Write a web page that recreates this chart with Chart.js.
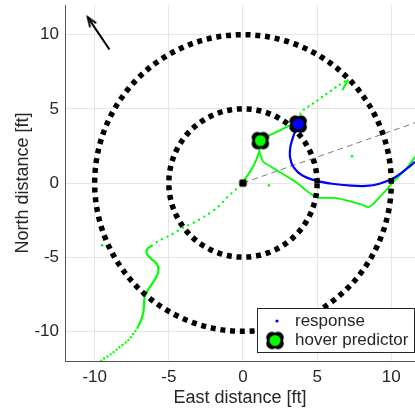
<!DOCTYPE html>
<html>
<head>
<meta charset="utf-8">
<script src="https://cdn.jsdelivr.net/npm/chart.js@4.4.1/dist/chart.umd.min.js"></script>
<style>
  html, body { margin: 0; padding: 0; background: #fff; }
  #wrap { width: 415px; height: 412px; }
</style>
</head>
<body>
<div id="wrap"><canvas id="hover_chart" width="415" height="412"></canvas></div>
<script>
// axis ticks
const xTicks = [-10, -5, 0, 5, 10];
const yTicks = [-10, -5, 0, 5, 10];

// range rings [ft]
const ringRadii = [5, 10];

// blue response trace
const responseX = [3.72, 3.45, 3.2, 3.18, 3.42, 3.98, 4.85, 6.0, 7.3, 8.3, 9.2, 10.1, 10.9, 11.6];
const responseY = [3.97, 3.3, 2.45, 1.7, 1.05, 0.52, 0.18, -0.05, -0.18, -0.2, -0.05, 0.3, 0.85, 1.42];

// green track, split by how dense the samples are
const trackStartX = [-9.7, -9.5, -8.89, -8.33, -7.77, -7.32, -7.09];
const trackStartY = [-12.2, -11.93, -11.53, -11.08, -10.63, -10.07, -9.73];
const wiggleX = [-7.09, -6.85, -6.7, -6.66, -6.55, -6.2, -5.85, -5.7, -5.8, -6.2, -6.5, -6.45, -6.15];
const wiggleY = [-9.73, -9.2, -8.6, -7.9, -7.45, -6.9, -6.35, -5.9, -5.45, -5.1, -4.75, -4.45, -4.22];
const approachX = [-6.15, -5.63, -4.84, -4.05, -3.26, -2.47, -1.69, -1.05, -0.5, -0.2];
const approachY = [-4.22, -3.87, -3.49, -3.01, -2.64, -2.18, -1.62, -0.95, -0.45, -0.2];
const climbX = [-0.2, 0.2, 0.54, 0.88, 1.1, 1.12];
const climbY = [-0.2, 0.35, 0.86, 1.53, 2.15, 2.5];
const bridgeX = [1.17, 1.8, 2.6, 3.24, 3.72];
const bridgeY = [2.86, 3.22, 3.6, 3.9, 3.97];
const exitX = [3.8, 3.94, 4.73, 5.52, 6.31, 7.09];
const exitY = [4.3, 4.8, 5.36, 5.93, 6.49, 6.98];
const tailX = [7.09, 6.71];
const tailY = [6.98, 6.26];
const sweepX = [1.1, 1.35, 1.9, 2.5, 3.1, 3.65, 4.2, 4.75, 5.2, 5.9, 6.5, 7.4, 8.0, 8.45, 8.8, 9.12, 9.6, 10.03, 10.5, 10.93, 11.6];
const sweepY = [2.15, 1.45, 1.1, 0.72, 0.35, 0.0, -0.45, -0.85, -1.0, -1.0, -1.05, -1.28, -1.45, -1.62, -1.4, -1.05, -0.55, -0.04, 0.45, 0.86, 1.76];
const strayX = [7.35, 1.75, -9.5];
const strayY = [1.8, -0.16, -4.2];

// markers
const predictorX = [1.17];
const predictorY = [2.86];
const currentX = [3.72];
const currentY = [3.97];
const originX = [0];
const originY = [0];

// heading arrow (tail, tip) and bearing line
const headingX = [-9.0, -10.47];
const headingY = [9.0, 11.18];
const bearingX = [0, 12];
const bearingY = [0, 4.2];

const labels = ['response', 'hover predictor'];

const TXT = '#262626';
const GREEN = '#00ff00';
const BLUE = '#0000ff';
const FONT = '"Liberation Sans", Arial, sans-serif';

const zip = (xs, ys) => xs.map((x, i) => ({x: x, y: ys[i]}));

function ring(r) {
  var pts = [];
  for (var i = 0; i <= 180; i++) {
    var a = i * Math.PI / 90;
    pts.push({x: r * Math.cos(a), y: r * Math.sin(a)});
  }
  return pts;
}

// black "flower" outline with a coloured centre
function flower(r, fill) {
  var size = Math.ceil(r * 2 + 2);
  var c = document.createElement('canvas');
  c.width = c.height = size;
  var g = c.getContext('2d');
  var m = size / 2;
  g.fillStyle = '#000';
  g.beginPath(); g.arc(m, m, r * 0.8, 0, Math.PI * 2); g.fill();
  for (var k = 0; k < 4; k++) {
    var a = Math.PI / 4 + k * Math.PI / 2;
    g.beginPath();
    g.arc(m + Math.cos(a) * r * 0.42, m + Math.sin(a) * r * 0.42, r * 0.58, 0, Math.PI * 2);
    g.fill();
  }
  if (fill) {
    g.fillStyle = fill;
    g.beginPath(); g.arc(m, m, r * 0.55, 0, Math.PI * 2); g.fill();
  }
  return c;
}

function arrowHead() {
  var c = document.createElement('canvas');
  c.width = 12; c.height = 26;
  var g = c.getContext('2d');
  g.strokeStyle = '#000';
  g.lineWidth = 2;
  g.lineCap = 'round';
  g.beginPath();
  g.moveTo(2.6, 22); g.lineTo(6, 13); g.lineTo(9.4, 22);
  g.stroke();
  return c;
}

const predictorIcon = flower(10, GREEN);
const currentIcon = flower(10, BLUE);
const originIcon = flower(4.4, null);

const headingRotation = Math.atan2(headingX[1] - headingX[0], headingY[1] - headingY[0]) * 180 / Math.PI;

function lineSet(data, color, width, dash, order, cap) {
  return {
    data: data, showLine: true, pointRadius: 0, pointHoverRadius: 0, borderColor: color,
    borderWidth: width, borderDash: dash || [], borderCapStyle: cap || 'butt',
    tension: 0.3, order: order, fill: false
  };
}

const legendBox = {
  id: 'legendBox',
  afterDatasetsDraw(chart) {
    const ctx = chart.ctx;
    const a = chart.chartArea;
    const w = 157, h = 44;
    const left = a.right - w - 1, top = a.bottom - h - 9;
    ctx.save();
    ctx.fillStyle = '#fff';
    ctx.fillRect(left, top, w, h);
    ctx.strokeStyle = TXT;
    ctx.lineWidth = 1;
    ctx.strokeRect(left + 0.5, top + 0.5, w, h);
    ctx.fillStyle = BLUE;
    ctx.beginPath(); ctx.arc(left + 20, top + 13, 1.6, 0, Math.PI * 2); ctx.fill();
    ctx.drawImage(predictorIcon, left + 18 - predictorIcon.width / 2, top + 32.5 - predictorIcon.height / 2);
    ctx.fillStyle = TXT;
    ctx.font = '17px ' + FONT;
    ctx.textBaseline = 'middle';
    ctx.fillText(labels[0], left + 38, top + 13);
    ctx.fillText(labels[1], left + 38, top + 32);
    ctx.restore();
  }
};

const ctx = document.getElementById('hover_chart').getContext('2d');
const hoverChart = new Chart(ctx, {
  type: 'scatter',
  plugins: [legendBox],
  data: {
    datasets: [
      {data: zip(currentX, currentY), pointStyle: currentIcon, order: 0},
      {data: zip(predictorX, predictorY), pointStyle: predictorIcon, order: 0},
      {data: zip(originX, originY), pointStyle: originIcon, order: 0},
      lineSet(ring(ringRadii[0]), '#000', 5.5, [5, 4.8], 1),
      lineSet(ring(ringRadii[1]), '#000', 5.5, [5, 4.8], 1),
      lineSet(zip(headingX, headingY), '#000', 2, [], 1),
      {data: [zip(headingX, headingY)[1]], pointStyle: arrowHead(), rotation: headingRotation, order: 1},
      lineSet(zip(responseX, responseY), BLUE, 2.2, [], 2),
      lineSet(zip(trackStartX, trackStartY), GREEN, 2.4, [0, 3.8], 3, 'round'),
      lineSet(zip(wiggleX, wiggleY), GREEN, 2.2, [], 3),
      lineSet(zip(approachX, approachY), GREEN, 2.4, [0, 6], 3, 'round'),
      lineSet(zip(climbX, climbY), GREEN, 2, [], 3),
      lineSet(zip(bridgeX, bridgeY), GREEN, 2, [], 3),
      lineSet(zip(exitX, exitY), GREEN, 2.4, [0, 5.5], 3, 'round'),
      lineSet(zip(tailX, tailY), GREEN, 2, [], 3),
      lineSet(zip(sweepX, sweepY), GREEN, 1.8, [], 3),
      {data: zip(strayX, strayY), pointRadius: 1.3, pointBackgroundColor: GREEN, pointBorderWidth: 0, order: 3},
      lineSet(zip(bearingX, bearingY), '#7a7a7a', 1, [6, 4], 4)
    ]
  },
  options: {
    responsive: false,
    animation: false,
    devicePixelRatio: 1,
    events: [],
    layout: { autoPadding: false, padding: { top: 5, right: 0, left: 0, bottom: 0 } },
    plugins: {
      legend: { display: false },
      tooltip: { enabled: false }
    },
    scales: {
      x: {
        type: 'linear', min: -12, max: 11.6,
        afterBuildTicks: (s) => { s.ticks = xTicks.map(v => ({value: v})); },
        afterFit: (s) => { s.height = 51; s.paddingLeft = 0; s.paddingRight = 0; },
        grid: { color: '#e6e6e6', drawTicks: false },
        border: { display: true, color: '#555555', width: 1 },
        ticks: { color: TXT, font: { family: FONT, size: 17 }, padding: 6, maxRotation: 0 },
        title: { display: true, text: 'East distance [ft]', color: TXT, font: { family: FONT, size: 18 }, padding: { top: 0, bottom: 3 } }
      },
      y: {
        type: 'linear', min: -12, max: 12,
        afterBuildTicks: (s) => { s.ticks = yTicks.map(v => ({value: v})); },
        afterFit: (s) => { s.width = 65; s.paddingTop = 0; s.paddingBottom = 0; },
        grid: { color: '#e6e6e6', drawTicks: false },
        border: { display: true, color: '#555555', width: 1 },
        ticks: { color: TXT, font: { family: FONT, size: 17 }, padding: 6 },
        title: { display: true, text: 'North distance [ft]', color: TXT, font: { family: FONT, size: 18 }, padding: { top: 12, bottom: 0 } }
      }
    }
  }
});
</script>
</body>
</html>
